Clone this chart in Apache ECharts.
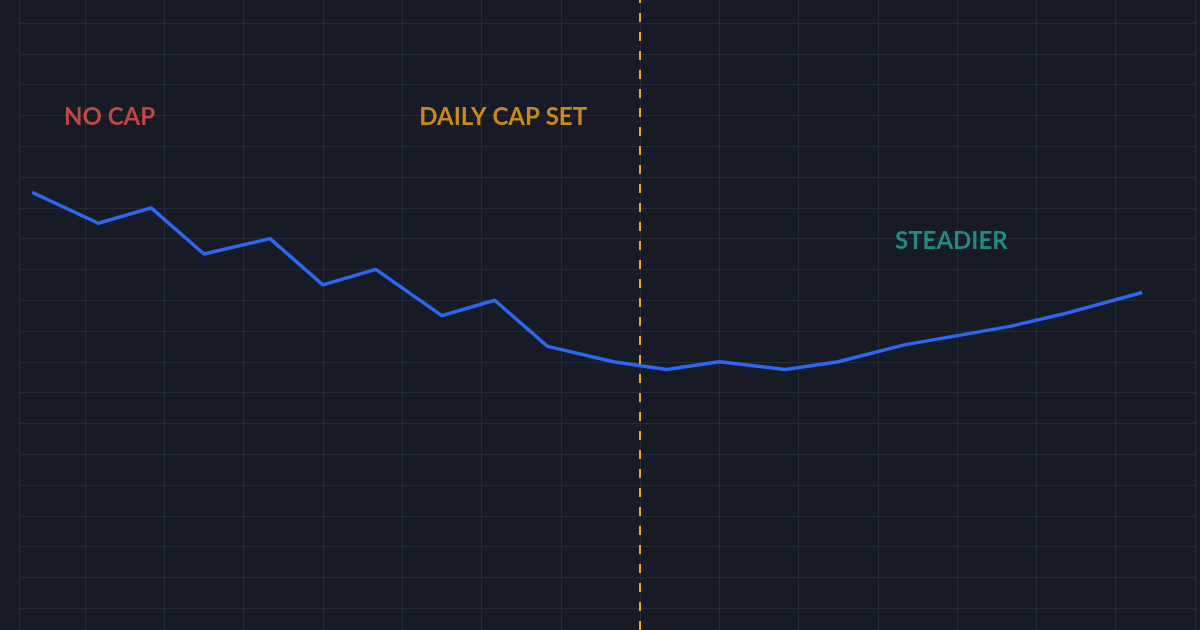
<!DOCTYPE html>
<html>
<head>
<meta charset="utf-8">
<script src="https://cdn.jsdelivr.net/npm/echarts@6/dist/echarts.min.js"></script>
<style>
html,body{margin:0;padding:0;background:#161b25;}
#chart{width:1200px;height:630px;}
</style>
</head>
<body>
<div id="chart"></div>
<script>
// Data (x = day index, y = value)
const days = [2, 7, 11, 15, 20, 24, 28, 33, 37, 41, 46, 50, 54, 59, 63, 68, 72, 76, 80, 86];
const values = [145, 135, 140, 125, 130, 115, 120, 105, 110, 95, 90, 87.5, 90, 87.5, 90, 95.5, 98.5, 101.5, 105.5, 112.5];
const capDay = 48;
const noteLabels = ['NO CAP', 'DAILY CAP SET', 'STEADIER'];
const noteDays = [4.4, 31.3, 67.3];
const noteValues = [169.3, 169.3, 129.3];
const noteColors = ['#e9534e', '#f7a21b', '#26a69a'];

const chart = echarts.init(document.getElementById('chart'), null, {renderer: 'canvas'});
const gridColor = '#242b37';

const option = {
  backgroundColor: '#161b25',
  animation: false,
  grid: {left: 19, right: 5, top: 0, bottom: 0, containLabel: false},
  xAxis: {
    type: 'value', min: 1, max: 90, minInterval: 6, maxInterval: 6,
    axisLine: {show: false}, axisTick: {show: false}, axisLabel: {show: false},
    splitLine: {show: true, lineStyle: {color: gridColor, width: 1}}
  },
  yAxis: {
    type: 'value', min: 2.9, max: 207.5, minInterval: 10, maxInterval: 10,
    axisLine: {show: false}, axisTick: {show: false}, axisLabel: {show: false},
    splitLine: {show: true, showMinLine: false, showMaxLine: false,
      lineStyle: {color: gridColor, width: 1}}
  },
  series: [
    {
      type: 'line',
      data: days.map((d, i) => [d, values[i]]),
      showSymbol: false,
      symbol: 'none',
      lineStyle: {color: '#2b67f2', width: 3.5},
      z: 3,
      markLine: {
        silent: true,
        symbol: 'none',
        label: {show: false},
        lineStyle: {color: '#f5a524', width: 2, type: [9, 10]},
        data: [{xAxis: capDay}]
      }
    },
    {
      type: 'scatter',
      symbolSize: 0,
      silent: true,
      data: noteLabels.map((t, i) => ({name: t, value: [noteDays[i], noteValues[i]],
        label: {color: noteColors[i]}})),
      label: {
        show: true, position: 'right', distance: 0,
        formatter: p => p.name,
        fontFamily: 'Lato', fontWeight: 'bold', fontSize: 24
      },
      z: 4
    }
  ]
};
chart.setOption(option);
</script>
</body>
</html>
